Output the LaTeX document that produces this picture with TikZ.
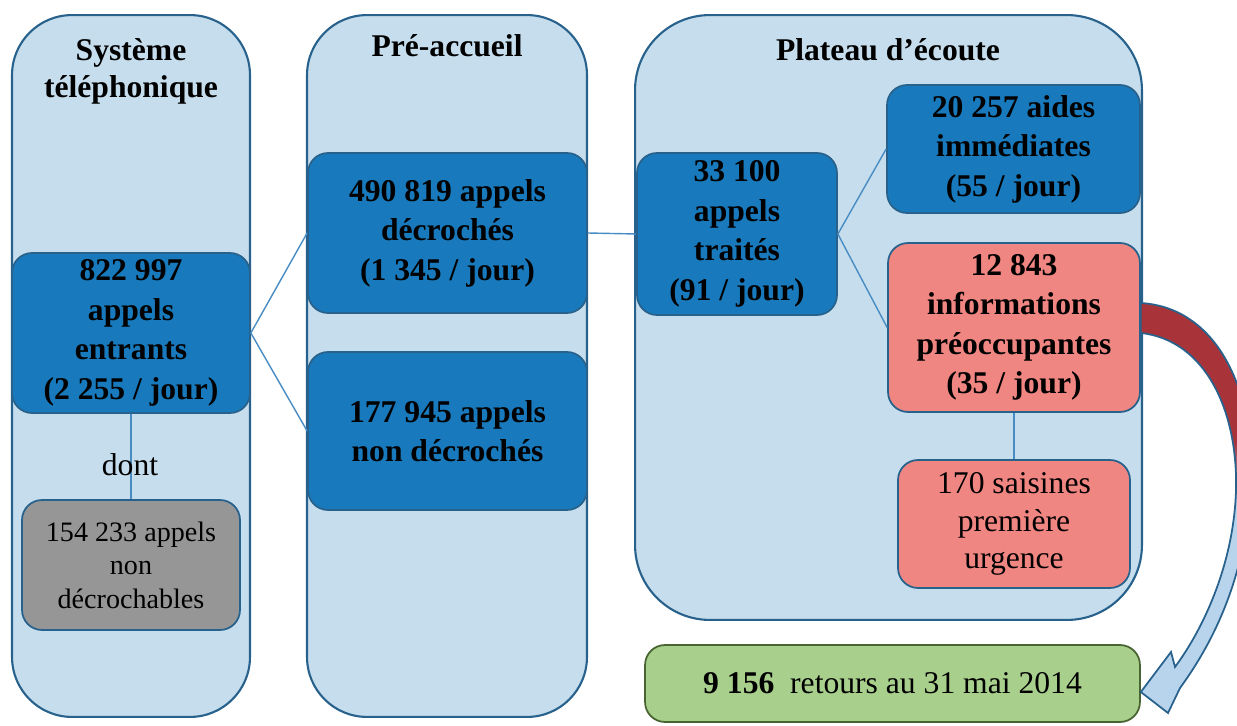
\documentclass[tikz,border=0pt]{standalone}
\usepackage{fontspec}
\setmainfont{Liberation Serif}
\usepackage{xcolor}
\definecolor{colfill}{RGB}{197,221,236}
\definecolor{edge}{RGB}{40,98,140}
\definecolor{appel}{RGB}{24,122,188}
\definecolor{alerte}{RGB}{240,134,130}
\definecolor{gris}{RGB}{150,150,150}
\definecolor{retour}{RGB}{168,207,140}
\definecolor{retourbord}{RGB}{72,100,50}
\definecolor{liencol}{RGB}{72,140,195}
\definecolor{fleche}{RGB}{168,52,58}
\definecolor{flechebas}{RGB}{184,212,236}
\usepackage{tikz}
\pgfdeclareverticalshading{flecheombre}{100bp}{color(0bp)=(flechebas); color(50bp)=(flechebas); color(58bp)=(fleche); color(100bp)=(fleche)}

\begin{document}
\begin{tikzpicture}[x=0.02cm,y=-0.02cm]
    \useasboundingbox (0,0) rectangle (1237,726);
    \tikzstyle{every node}=[font=\fontsize{18}{22.5}\selectfont, align=center, inner sep=0pt]
    \tikzstyle{colonne}=[draw=edge, line width=1.2pt, fill=colfill, rounded corners=1.2cm]
    \tikzstyle{titre}=[font=\fontsize{18}{21}\selectfont\bfseries]
    \tikzstyle{boite}=[draw=edge, line width=1pt, rounded corners=0.4cm, font=\fontsize{18}{22.5}\selectfont\bfseries]
    \tikzstyle{lien}=[draw=liencol, line width=0.8pt]

    % colonnes
    \node[colonne, minimum width=4.76cm, minimum height=14.04cm] (sys) at (131,366) {};
    \node[colonne, minimum width=5.6cm, minimum height=14.04cm] (pre) at (447,366) {};
    \node[colonne, rounded corners=1.5cm, minimum width=10.14cm, minimum height=12.1cm] (plat) at (888.5,317.5) {};

    \node[titre] (titresys) at (131,71) {Système\\téléphonique};
    \node[titre] (titrepre) at (447,46) {Pré-accueil};
    \node[titre] (titreplat) at (888,50) {Plateau d’écoute};

    % systeme telephonique
    \node[boite, fill=appel, minimum width=4.76cm, minimum height=3.2cm] (entrants) at (131,333)
        {822~997\\appels\\entrants\\(2~255 / jour)};
    \node[boite, fill=gris, font=\fontsize{16}{19}\selectfont, minimum width=4.36cm, minimum height=2.6cm] (nondecrochables) at (131,565)
        {154~233 appels\\non\\décrochables};
    \draw[lien] (entrants.south) -- (nondecrochables.north);
    \node (dont) at (130,465) {dont};

    % pre-accueil
    \node[boite, fill=appel, minimum width=5.58cm, minimum height=3.2cm] (decroches) at (447.5,233)
        {490~819 appels\\décrochés\\(1~345 / jour)};
    \node[boite, fill=appel, minimum width=5.58cm, minimum height=3.16cm] (nondecroches) at (447.5,431)
        {177~945 appels\\non décrochés};
    \draw[lien] (entrants.east) -- (decroches.west);
    \draw[lien] (entrants.east) -- (nondecroches.west);

    % plateau d'ecoute
    \node[boite, fill=appel, minimum width=4cm, minimum height=3.24cm] (traites) at (737,234)
        {33~100\\appels\\traités\\(91 / jour)};
    \node[boite, fill=appel, minimum width=5.06cm, minimum height=2.56cm] (aides) at (1013.5,149)
        {20~257 aides\\immédiates\\(55 / jour)};
    \node[boite, fill=alerte, minimum width=5.04cm, minimum height=3.38cm] (infos) at (1014,327.5)
        {12~843\\informations\\préoccupantes\\(35 / jour)};
    \node[boite, fill=alerte, font=\fontsize{18}{21.5}\selectfont, minimum width=4.64cm, minimum height=2.56cm] (saisines) at (1014,524)
        {170 saisines\\première\\urgence};
    \draw[lien] (decroches.east) -- (traites.west);
    \draw[lien] (traites.east) -- (aides.west);
    \draw[lien] (traites.east) -- (infos.west);
    \draw[lien] (infos.south) -- (saisines.north);

    \node[boite, fill=retour, draw=retourbord, font=\fontsize{18}{22.5}\selectfont, minimum width=9.9cm, minimum height=1.54cm] (retours) at (892.5,683.5)
        {{\bfseries 9~156}\ \ retours au 31 mai 2014};

    % fleche courbe
    \shade[draw=edge, line width=1pt, shading=flecheombre]
        (infos.east |- 0,303) .. controls (1222,308) and (1256,400) .. (1251,485)
        .. controls (1246,575) and (1215,640) .. (1180,688)
        -- (1168,713) -- (retours.east |- 0,692) -- (1171,652) -- (1175,667)
        .. controls (1206,625) and (1234,560) .. (1236,490)
        .. controls (1238,410) and (1205,340) .. (infos.east |- 0,333) -- cycle;
\end{tikzpicture}
\end{document}
